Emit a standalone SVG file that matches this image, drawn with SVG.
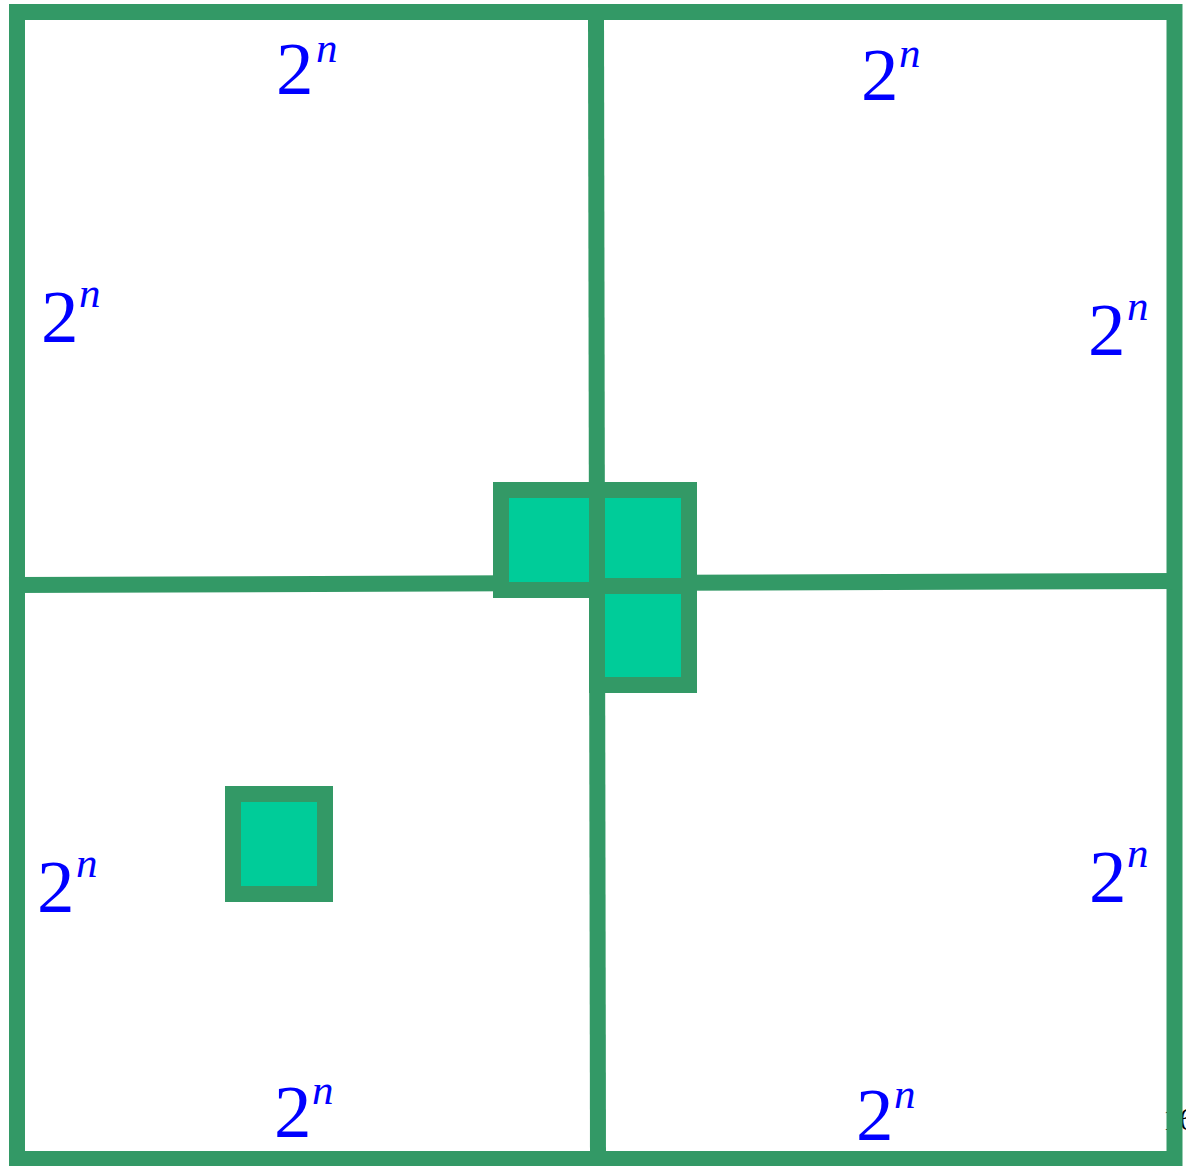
<svg xmlns="http://www.w3.org/2000/svg" width="1186" height="1166" viewBox="0 0 1186 1166">
<style>
.ln{stroke:#339966;stroke-width:16;fill:none;stroke-linecap:square;stroke-linejoin:miter}
.sq{stroke:#339966;stroke-width:16;fill:#00CC99;stroke-linejoin:miter}
.two{font-family:"Liberation Serif",serif;font-size:75px;fill:#0000FF}
.n{font-family:"Liberation Serif",serif;font-size:43px;font-style:italic;fill:#0000FF}
.pg{font-family:"Liberation Serif",serif;font-size:32px;fill:#000}
</style>
<rect width="1186" height="1166" fill="#fff"/>
<text class="pg" x="1163" y="1130">16</text>
<g id="grid">
<rect class="ln" x="17" y="12" width="1157.5" height="1147"/>
<line class="ln" x1="596" y1="12" x2="598" y2="1159"/>
<line class="ln" x1="17" y1="585" x2="1174" y2="581"/>
</g>
<g id="center-squares">
<rect class="sq" x="501" y="490" width="96" height="100"/>
<rect class="sq" x="597" y="490" width="92" height="96"/>
<rect class="sq" x="597" y="586" width="92" height="99"/>
</g>
<g id="small-square">
<rect class="sq" x="233" y="794" width="92" height="100"/>
</g>
<g id="labels">
<g id="l1"><text class="two" x="276" y="94">2</text><text class="n" x="316" y="62">n</text></g>
<g id="l2"><text class="two" x="861" y="100">2</text><text class="n" x="899" y="67">n</text></g>
<g id="l3"><text class="two" x="41" y="342">2</text><text class="n" x="79" y="307">n</text></g>
<g id="l4"><text class="two" x="1088" y="355">2</text><text class="n" x="1127" y="320">n</text></g>
<g id="l5"><text class="two" x="37" y="912">2</text><text class="n" x="76" y="877">n</text></g>
<g id="l6"><text class="two" x="1089" y="902">2</text><text class="n" x="1127" y="867">n</text></g>
<g id="l7"><text class="two" x="274" y="1137">2</text><text class="n" x="312" y="1104">n</text></g>
<g id="l8"><text class="two" x="856" y="1140">2</text><text class="n" x="894" y="1108">n</text></g>
</g>
</svg>
